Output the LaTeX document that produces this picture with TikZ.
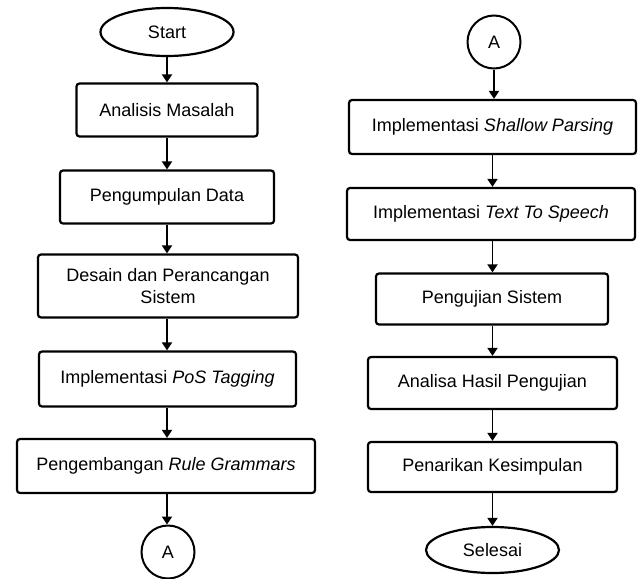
\documentclass[tikz,border=0pt]{standalone}
\usepackage{fontspec}
\setmainfont{Liberation Sans}
\usepackage{tikz}
\usetikzlibrary{positioning,arrows.meta,shapes.geometric}

\begin{document}
\begin{tikzpicture}[x=1pt, y=-1pt,
        font=\fontsize{18}{22}\selectfont,
        box/.style={rectangle, draw, line width=2.2pt, rounded corners=3pt, minimum height=53pt, align=center, inner sep=2pt},
        term/.style={ellipse, draw, line width=2.2pt, minimum width=133pt, minimum height=48pt, inner sep=0pt},
        conn/.style={circle, draw, line width=2pt, minimum size=53pt, inner sep=0pt},
        flow/.style={-{Triangle[width=10pt,length=8pt]}, line width=1.8pt}]
        \useasboundingbox (0,0) rectangle (639,578);

        % Left column
        \node[term] (start) at (167,32) {Start};
        \node[box, minimum width=181pt] (analisis) at (167,110) {Analisis Masalah};
        \node[box, minimum width=214pt] (data) at (167,197) {Pengumpulan Data};
        \node[box, minimum width=260pt, minimum height=63pt] (desain) at (168,286) {Desain dan Perancangan\\Sistem};
        \node[box, minimum width=257pt, minimum height=55pt] (pos) at (167.5,379) {Implementasi \textit{PoS Tagging}};
        \node[box, minimum width=298pt, minimum height=54pt] (rule) at (166,466) {Pengembangan \textit{Rule Grammars}};
        \node[conn] (a1) at (168,552) {A};

        % Right column
        \node[conn] (a2) at (494,42) {A};
        \node[box, minimum width=287pt, minimum height=54pt] (shallow) at (492.5,127) {Implementasi \textit{Shallow Parsing}};
        \node[box, minimum width=288pt, minimum height=52pt] (tts) at (491,214) {Implementasi \textit{Text To Speech}};
        \node[box, minimum width=232pt, minimum height=51pt] (uji) at (492,299) {Pengujian Sistem};
        \node[box, minimum width=249pt, minimum height=52pt] (hasil) at (492.5,383) {Analisa Hasil Pengujian};
        \node[box, minimum width=249pt, minimum height=50pt] (simpul) at (492.5,467) {Penarikan Kesimpulan};
        \node[term, minimum height=46pt] (selesai) at (492.5,550) {Selesai};

        % Draw arrows
        \draw[flow] (start.south -| analisis) -- (analisis);
        \draw[flow] (analisis) -- (data);
        \draw[flow] (data) -- (data |- desain.north);
        \draw[flow] (data.south |- desain.south) -- (data |- pos.north);
        \draw[flow] (data.south |- pos.south) -- (data |- rule.north);
        \draw[flow] (data.south |- rule.south) -- (data |- a1.north);
        \draw[flow] (a2) -- (a2 |- shallow.north);
        \draw[flow] (shallow.south -| hasil) -- (hasil |- tts.north);
        \draw[flow] (hasil |- tts.south) -- (hasil |- uji.north);
        \draw[flow] (hasil |- uji.south) -- (hasil |- hasil.north);
        \draw[flow] (hasil) -- (simpul);
        \draw[flow] (simpul) -- (selesai);
\end{tikzpicture}
\end{document}
